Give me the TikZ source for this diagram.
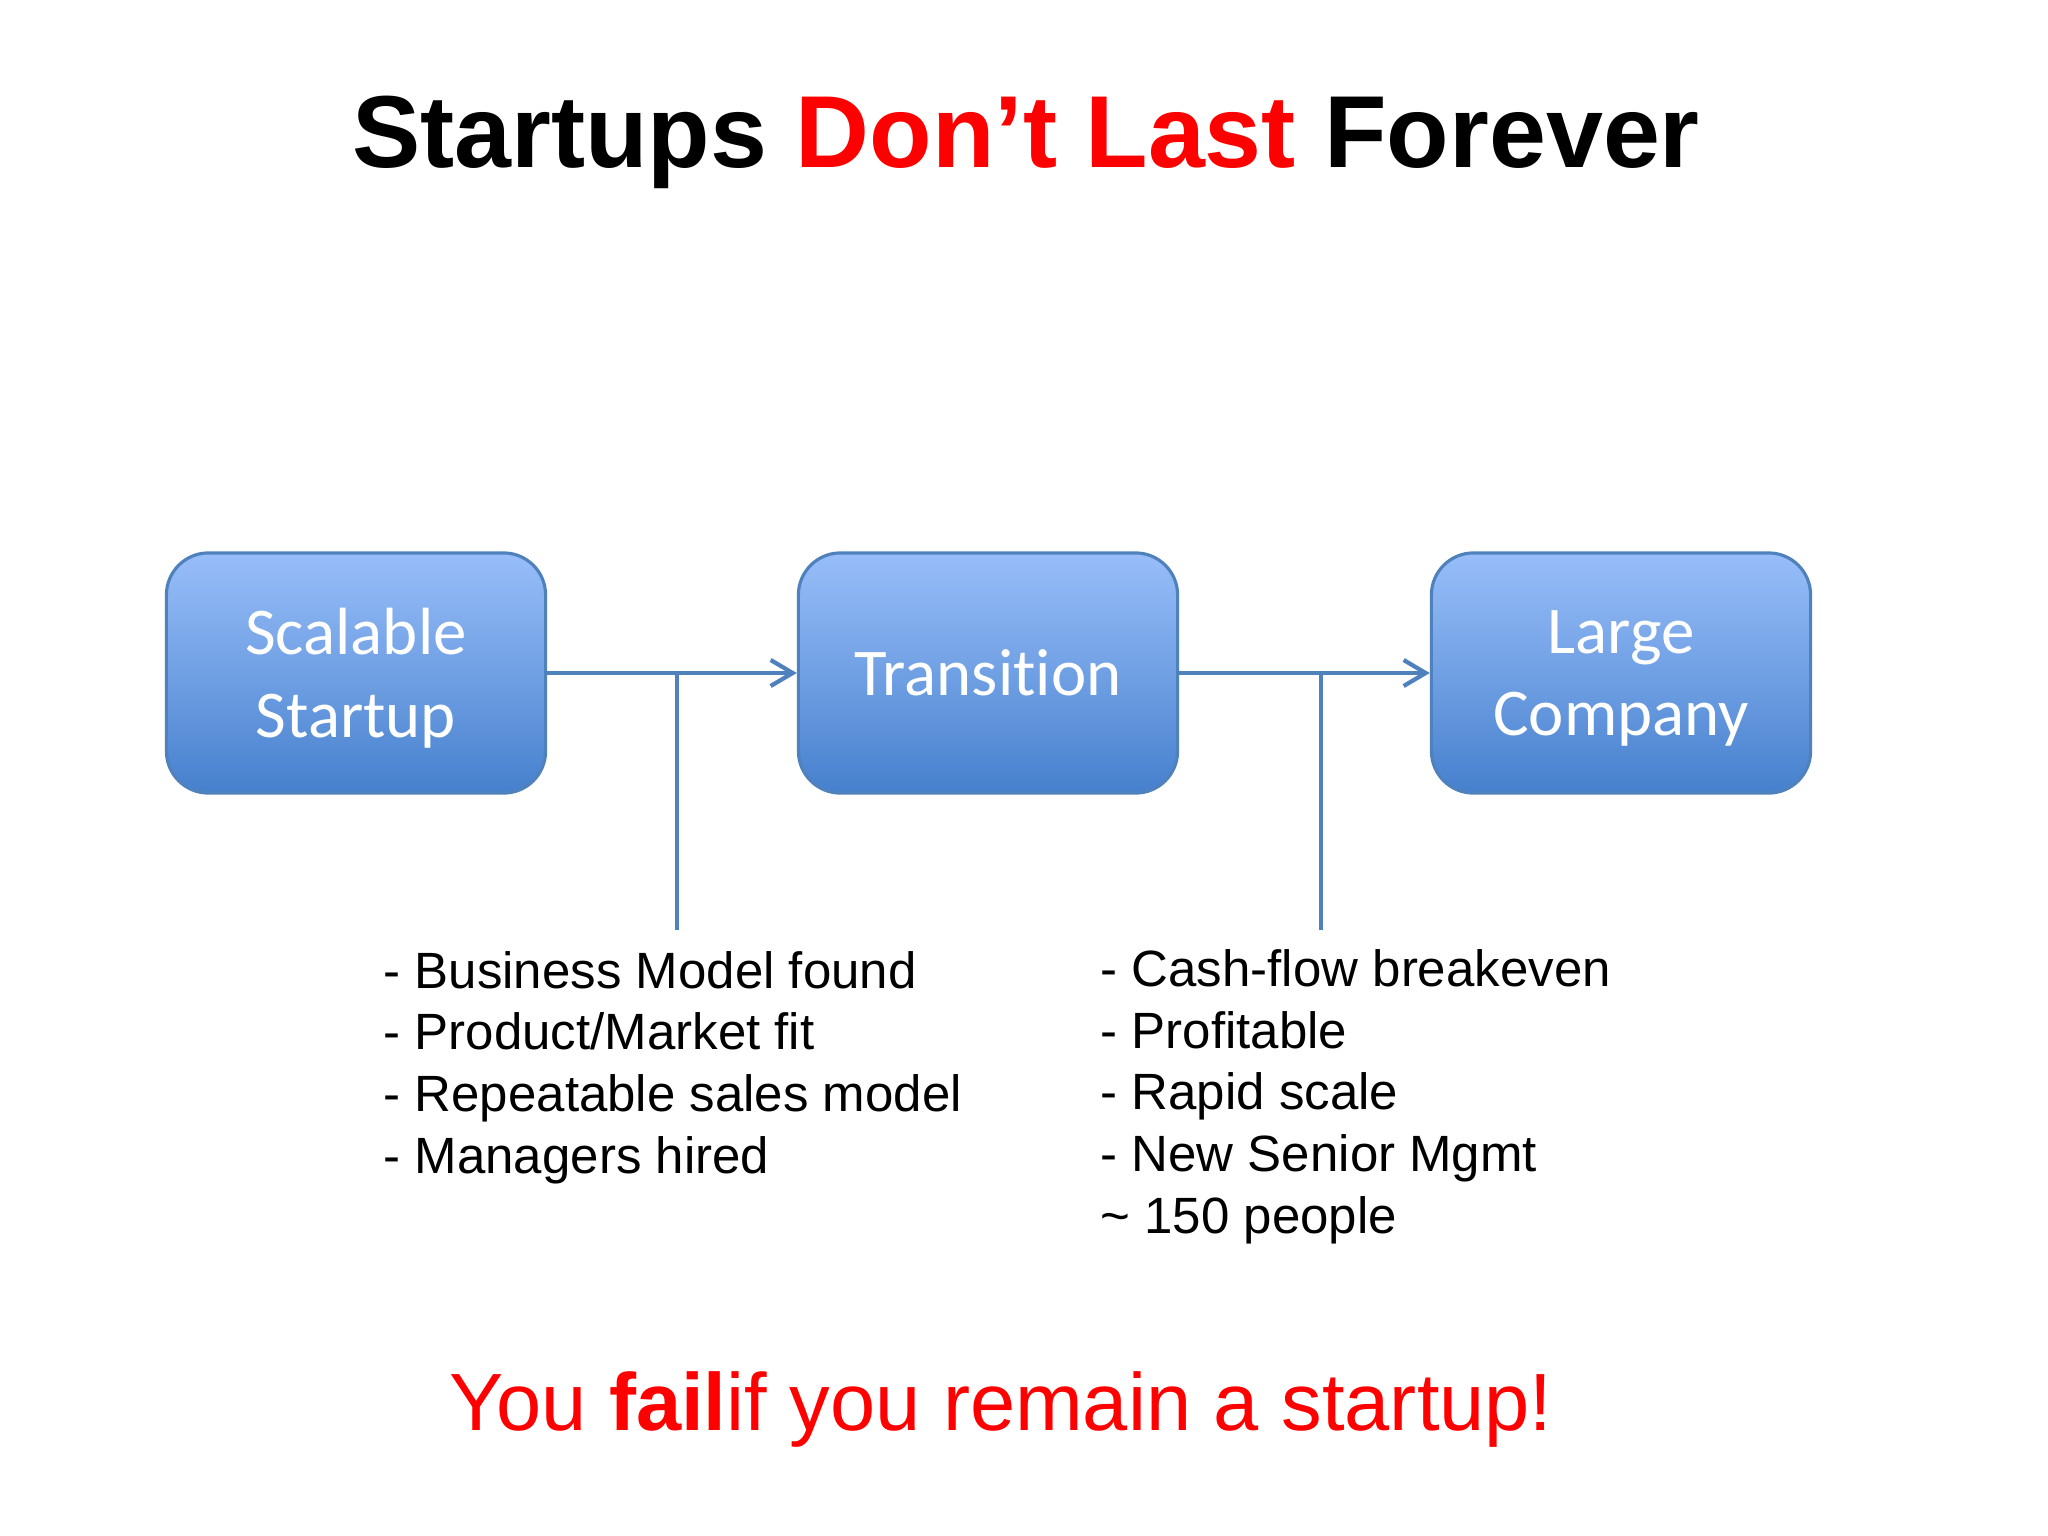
\documentclass[tikz,border=0pt]{standalone}
\usepackage{fontspec}
\setmainfont{Liberation Sans}
\newfontfamily\boxfont{Carlito}[Ligatures=NoCommon]
\usetikzlibrary{arrows.meta}
\definecolor{boxtop}{RGB}{152,190,249}
\definecolor{boxmid}{RGB}{112,160,228}
\definecolor{boxbot}{RGB}{70,128,205}
\definecolor{linkblue}{RGB}{79,129,189}
\tikzset{
  stage/.style={draw=linkblue, line width=0.9pt, rounded corners=0.42cm,
    top color=boxtop, bottom color=boxbot, middle color=boxmid,
    minimum width=3.79cm, minimum height=2.40cm, inner sep=0pt, text depth=0pt,
    text=white, align=center, font=\boxfont\fontsize{19}{23.5}\selectfont},
  link/.style={linkblue, line width=1.2pt},
  notes/.style={anchor=base west, inner sep=0pt, align=left,
    font=\fontsize{14.5}{17.5}\selectfont}
}
\begin{document}
\begin{tikzpicture}[x=0.01cm, y=-0.01cm]
    \useasboundingbox (0,0) rectangle (2048,1536);
    % title
    \node[anchor=base, inner sep=0pt, font=\bfseries\fontsize{29.1}{35}\selectfont] (title) at (1026,167)
        {Startups \textcolor{red}{Don’t Last} Forever};
    % three stages (kern keeps t and i apart)
    \node[stage] (scalable) at (356,673) {Scalable\\Startup};
    \node[stage] (transition) at (988,673) {Transit\kern0pt ion};
    \node[stage] (large) at (1621,673) {Large\\Company};
    \draw[link, -{Straight Barb[length=0.22cm, width=0.26cm]}] (scalable) -- (transition);
    \draw[link, -{Straight Barb[length=0.22cm, width=0.26cm]}] (transition) -- (large);
    % drops to the notes
    \coordinate (j1) at (677,673); \coordinate (e1) at (677,930);
    \coordinate (j2) at (1321,673); \coordinate (e2) at (1321,930);
    \draw[link] (j1) -- (e1);
    \draw[link] (j2) -- (e2);
    % base of a node with lines is its last line
    \node[notes] (found) at (383,1173)
        {- Business Model found\\- Product/Market fit\\- Repeatable sales model\\- Managers hired};
    \node[notes] (scale) at (1100,1233)
        {- Cash-flow breakeven\\- Profitable\\- Rapid scale\\- New Senior Mgmt\\\textasciitilde{} 150 people};
    % bottom line
    \node[anchor=base, inner sep=0pt, text=red, font=\fontsize{23.1}{27}\selectfont] (fail) at (1001,1430)
        {You {\bfseries fail}if you remain a startup!};
\end{tikzpicture}
\end{document}
